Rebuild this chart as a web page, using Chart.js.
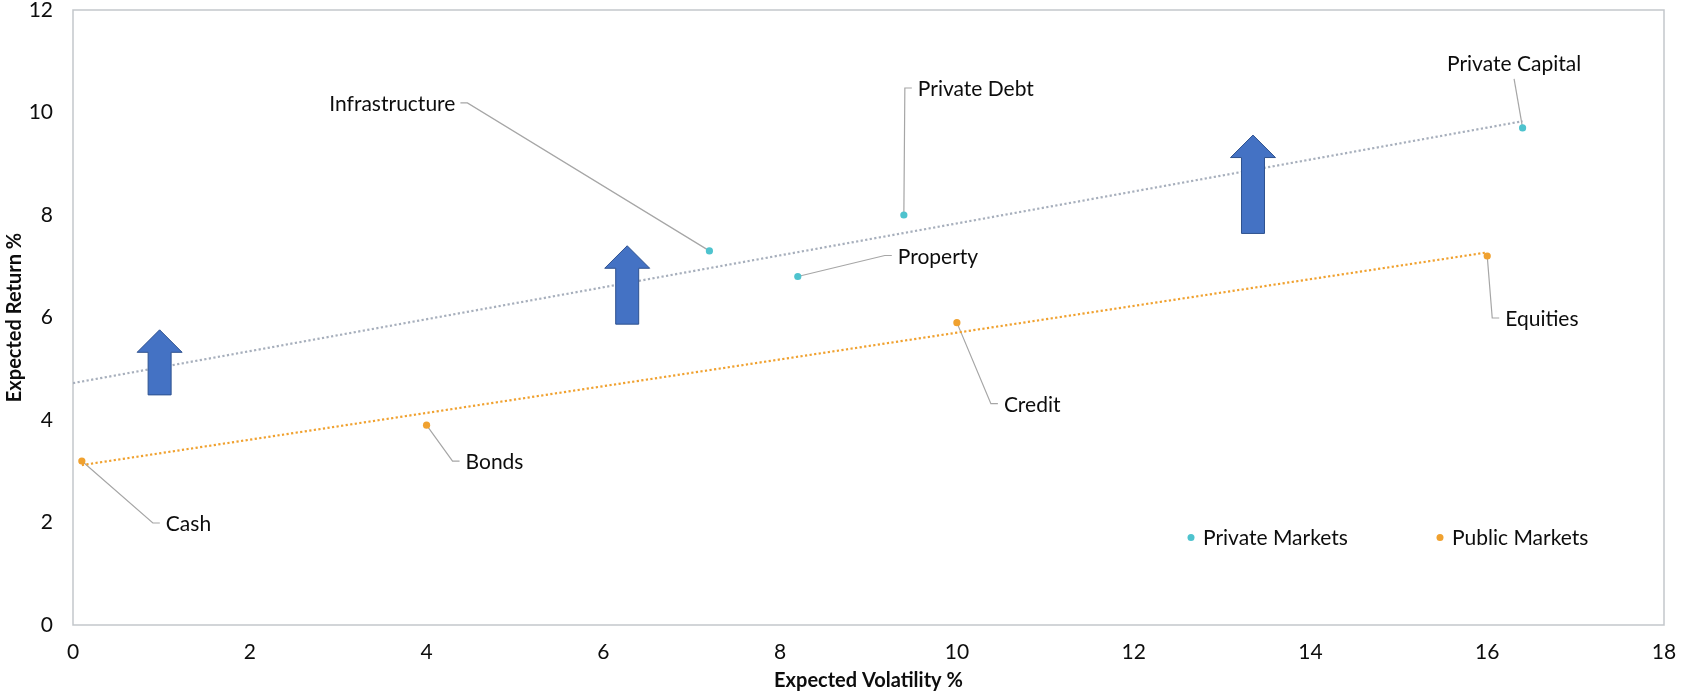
<!DOCTYPE html>
<html>
<head>
<meta charset="utf-8">
<script src="https://cdn.jsdelivr.net/npm/chart.js@4.4.1/dist/chart.umd.min.js"></script>
<style>
  html, body { margin: 0; padding: 0; background: #fff; overflow: hidden; }
  canvas { display: block; }
</style>
</head>
<body>
<canvas id="chart" width="1681" height="696"></canvas>
<script>
// ---- data ----
const privateNames = ['Infrastructure', 'Private Debt', 'Property', 'Private Capital'];
const privateVol = [7.2, 9.4, 8.2, 16.4];
const privateRet = [7.3, 8.0, 6.8, 9.7];

const publicNames = ['Cash', 'Bonds', 'Credit', 'Equities'];
const publicVol = [0.1, 4.0, 10.0, 16.0];
const publicRet = [3.2, 3.9, 5.9, 7.2];

// trend lines (start / end)
const privateTrendVol = [0, 16.4];
const privateTrendRet = [4.72, 9.83];
const publicTrendVol = [0.1, 16.0];
const publicTrendRet = [3.12, 7.27];

// upward arrows: volatility position, return at tail, return at tip
const arrowVol = [0.98, 6.27, 13.35];
const arrowFrom = [4.49, 5.87, 7.64];
const arrowTo = [5.76, 7.40, 9.56];

// axis ticks
const xTickValues = [0, 2, 4, 6, 8, 10, 12, 14, 16, 18];
const yTickValues = [0, 2, 4, 6, 8, 10, 12];

// ---- styles ----
const FONT = 'Lato, "Open Sans", sans-serif';
const TEXT_SIZE = 21;
const TEAL = '#4EC3CE';
const ORANGE = '#F0A12F';
const TREND_GREY = '#A7AFBC';
const LEADER = '#A6A6A6';
const FRAME = '#C3C7CB';
const ARROW_FILL = '#4472C4';
const ARROW_EDGE = '#2F528F';

// label placement: elbow offset from the point (px) and which side the text sits on
const labelLayout = {
  'Infrastructure':  { dx: -242, dy: -148, side: 'left' },
  'Private Debt':    { dx: 1,    dy: -127, side: 'right' },
  'Property':        { dx: 87,   dy: -21,  side: 'right' },
  'Private Capital': { dx: -8.5, dy: -49,  side: 'top' },
  'Cash':            { dx: 71,   dy: 62,   side: 'right' },
  'Bonds':           { dx: 26,   dy: 36,   side: 'right' },
  'Credit':          { dx: 34,   dy: 81,   side: 'right' },
  'Equities':        { dx: 5,    dy: 62,   side: 'right' }
};

const toPoints = (xs, ys) => xs.map((x, i) => ({ x: x, y: ys[i] }));

// frame round the plot area
const framePlugin = {
  id: 'frame',
  beforeDatasetsDraw(chart) {
    const { ctx, chartArea: a } = chart;
    ctx.save();
    ctx.strokeStyle = FRAME;
    ctx.lineWidth = 1.5;
    ctx.strokeRect(a.left, a.top, a.right - a.left, a.bottom - a.top);
    ctx.restore();
  }
};

// leader lines under the markers, names over them
const labelPlugin = {
  id: 'pointLabels',
  beforeDatasetsDraw(chart) {
    const { ctx } = chart;
    ctx.save();
    ctx.strokeStyle = LEADER;
    ctx.lineWidth = 1.2;
    [[0, privateNames], [1, publicNames]].forEach(([di, names]) => {
      const meta = chart.getDatasetMeta(di);
      meta.data.forEach((pt, i) => {
        const L = labelLayout[names[i]];
        const ex = pt.x + L.dx, ey = pt.y + L.dy;
        ctx.beginPath();
        ctx.moveTo(pt.x, pt.y);
        ctx.lineTo(ex, ey);
        if (L.side === 'right') ctx.lineTo(ex + 7, ey);
        if (L.side === 'left') ctx.lineTo(ex - 7, ey);
        ctx.stroke();
      });
    });
    ctx.restore();
  },
  afterDatasetsDraw(chart) {
    const { ctx } = chart;
    ctx.save();
    ctx.fillStyle = '#0d0d0d';
    ctx.font = TEXT_SIZE + 'px ' + FONT;
    ctx.textBaseline = 'middle';
    [[0, privateNames], [1, publicNames]].forEach(([di, names]) => {
      const meta = chart.getDatasetMeta(di);
      meta.data.forEach((pt, i) => {
        const L = labelLayout[names[i]];
        const ex = pt.x + L.dx, ey = pt.y + L.dy;
        if (L.side === 'right') {
          ctx.textAlign = 'left';
          ctx.fillText(names[i], ex + 13, ey + 1.5);
        } else if (L.side === 'left') {
          ctx.textAlign = 'right';
          ctx.fillText(names[i], ex - 12, ey + 1.5);
        } else {
          ctx.textAlign = 'center';
          ctx.fillText(names[i], ex, ey - 15);
        }
      });
    });
    ctx.restore();
  }
};

// block arrows placed in data space
const arrowPlugin = {
  id: 'arrows',
  afterDatasetsDraw(chart) {
    const { ctx, scales: { x, y } } = chart;
    const headW = 45, headH = 22.5, shaftW = 23;
    ctx.save();
    ctx.fillStyle = ARROW_FILL;
    ctx.strokeStyle = ARROW_EDGE;
    ctx.lineWidth = 1;
    ctx.lineJoin = 'miter';
    arrowVol.forEach((v, i) => {
      const cx = x.getPixelForValue(v);
      const yb = y.getPixelForValue(arrowFrom[i]);
      const yt = y.getPixelForValue(arrowTo[i]);
      const yh = yt + headH;
      ctx.beginPath();
      ctx.moveTo(cx, yt);
      ctx.lineTo(cx + headW / 2, yh);
      ctx.lineTo(cx + shaftW / 2, yh);
      ctx.lineTo(cx + shaftW / 2, yb);
      ctx.lineTo(cx - shaftW / 2, yb);
      ctx.lineTo(cx - shaftW / 2, yh);
      ctx.lineTo(cx - headW / 2, yh);
      ctx.closePath();
      ctx.fill();
      ctx.stroke();
    });
    ctx.restore();
  }
};

// legend inside the plot area, lower right
const legendPlugin = {
  id: 'innerLegend',
  afterDraw(chart) {
    const { ctx, chartArea: a } = chart;
    const ly = a.bottom - 87.5;
    const items = [
      { ds: 0, x: a.right - 473 },
      { ds: 1, x: a.right - 224 }
    ];
    ctx.save();
    ctx.font = TEXT_SIZE + 'px ' + FONT;
    ctx.textBaseline = 'middle';
    ctx.textAlign = 'left';
    items.forEach(it => {
      const ds = chart.data.datasets[it.ds];
      ctx.fillStyle = ds.backgroundColor;
      ctx.beginPath();
      ctx.arc(it.x, ly, 3.5, 0, Math.PI * 2);
      ctx.fill();
      ctx.fillStyle = '#0d0d0d';
      ctx.fillText(ds.label, it.x + 12, ly + 1);
    });
    ctx.restore();
  }
};

new Chart(document.getElementById('chart'), {
  type: 'scatter',
  data: {
    datasets: [
      {
        label: 'Private Markets',
        data: toPoints(privateVol, privateRet),
        backgroundColor: TEAL,
        borderColor: TEAL,
        pointRadius: 3.6,
        pointBorderWidth: 0,
        order: 1
      },
      {
        label: 'Public Markets',
        data: toPoints(publicVol, publicRet),
        backgroundColor: ORANGE,
        borderColor: ORANGE,
        pointRadius: 3.6,
        pointBorderWidth: 0,
        order: 1
      },
      {
        label: 'Private trend',
        type: 'line',
        data: toPoints(privateTrendVol, privateTrendRet),
        borderColor: TREND_GREY,
        borderWidth: 2.2,
        borderDash: [2.2, 2.4],
        pointRadius: 0,
        fill: false,
        order: 2
      },
      {
        label: 'Public trend',
        type: 'line',
        data: toPoints(publicTrendVol, publicTrendRet),
        borderColor: ORANGE,
        borderWidth: 2.2,
        borderDash: [2.2, 2.4],
        pointRadius: 0,
        fill: false,
        order: 2
      }
    ]
  },
  options: {
    responsive: false,
    animation: false,
    devicePixelRatio: 1,
    layout: { autoPadding: false, padding: { top: 10, right: 17, bottom: 0, left: 0 } },
    plugins: { legend: { display: false }, tooltip: { enabled: false } },
    scales: {
      x: {
        type: 'linear',
        min: 0, max: 18,
        afterBuildTicks: s => { s.ticks = xTickValues.map(v => ({ value: v })); },
        afterFit: s => { s.height = 71; s.paddingLeft = 0; s.paddingRight = 0; },
        grid: { display: false, drawTicks: false },
        border: { display: false },
        ticks: { color: '#0d0d0d', padding: 15, font: { family: FONT, size: TEXT_SIZE }, maxRotation: 0 },
        title: {
          display: true, text: 'Expected Volatility %', color: '#0d0d0d',
          font: { family: FONT, size: 20, weight: 'bold' },
          padding: { top: 0, bottom: 3 }
        }
      },
      y: {
        type: 'linear',
        min: 0, max: 12,
        afterBuildTicks: s => { s.ticks = yTickValues.map(v => ({ value: v })); },
        afterFit: s => { s.width = 73; s.paddingTop = 0; s.paddingBottom = 0; },
        grid: { display: false, drawTicks: false },
        border: { display: false },
        ticks: { color: '#0d0d0d', padding: 20, font: { family: FONT, size: TEXT_SIZE } },
        title: {
          display: true, text: 'Expected Return %', color: '#0d0d0d',
          font: { family: FONT, size: 20, weight: 'bold' },
          padding: { top: 3, bottom: 0 }
        }
      }
    }
  },
  plugins: [framePlugin, labelPlugin, arrowPlugin, legendPlugin]
});
</script>
</body>
</html>
